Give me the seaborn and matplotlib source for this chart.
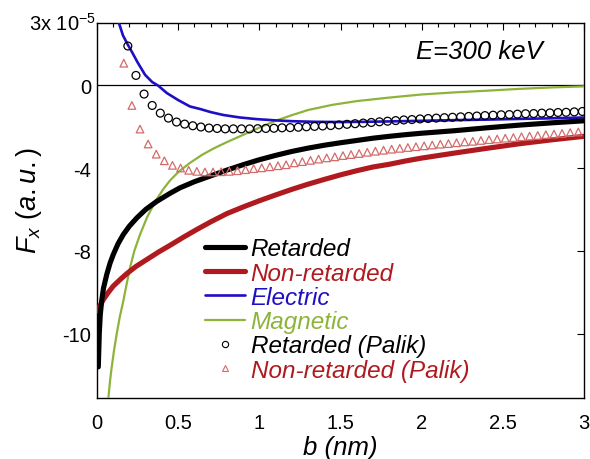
import numpy as np
import pandas as pd
import matplotlib
matplotlib.use('Agg')
import matplotlib.pyplot as plt
import seaborn as sns
from matplotlib.lines import Line2D
from matplotlib.ticker import MultipleLocator, FixedLocator

# ---------------- data ----------------
ret_b = [0.008, 0.014, 0.02, 0.029, 0.04, 0.06, 0.08, 0.1, 0.13, 0.162, 0.2, 0.245, 0.3,
         0.368, 0.45, 0.51, 0.6, 0.7, 0.8, 0.9, 1.0, 1.1, 1.2, 1.3, 1.4, 1.5, 1.6, 1.7,
         1.8, 1.9, 2.0, 2.2, 2.4, 2.6, 2.8, 3.0]
ret_f = [-13.6, -12.0, -11.1, -10.4, -9.8, -9.14, -8.6, -8.18, -7.65, -7.21, -6.8, -6.41, -6.0,
         -5.61, -5.22, -4.96, -4.66, -4.38, -4.1, -3.84, -3.6, -3.39, -3.2, -3.04, -2.9, -2.78,
         -2.67, -2.56, -2.47, -2.39, -2.32, -2.2, -2.06, -1.93, -1.82, -1.72]

nonret_b = [0.0, 0.02, 0.039, 0.07, 0.1, 0.14, 0.183, 0.24, 0.306, 0.38, 0.45, 0.53, 0.614,
            0.7, 0.8, 0.9, 1.0, 1.1, 1.2, 1.3, 1.4, 1.5, 1.6, 1.7, 1.8, 1.9, 2.0, 2.2, 2.4,
            2.6, 2.8, 3.0]
nonret_f = [-10.9, -10.62, -10.35, -10.0, -9.7, -9.4, -9.1, -8.75, -8.42, -8.05, -7.73, -7.35,
            -6.97, -6.6, -6.2, -5.88, -5.58, -5.3, -5.03, -4.78, -4.55, -4.33, -4.13, -3.95,
            -3.82, -3.66, -3.52, -3.28, -3.05, -2.83, -2.64, -2.47]

elec_b = [0.135, 0.16, 0.19, 0.214, 0.25, 0.296, 0.34, 0.378, 0.43, 0.5, 0.573, 0.635, 0.7,
          0.778, 0.88, 0.984, 1.1, 1.2, 1.35, 1.5, 1.65, 1.8, 2.0, 2.2, 2.42, 2.6, 2.8, 3.0]
elec_f = [3.0, 2.4, 1.95, 1.62, 1.1, 0.5, 0.15, -0.03, -0.38, -0.72, -1.03, -1.15, -1.3,
          -1.44, -1.56, -1.64, -1.7, -1.74, -1.77, -1.78, -1.77, -1.75, -1.72, -1.69, -1.66,
          -1.63, -1.6, -1.56]

mag_b = [0.07, 0.08, 0.09, 0.105, 0.121, 0.14, 0.162, 0.18, 0.203, 0.23, 0.265, 0.31, 0.36,
         0.41, 0.45, 0.5, 0.573, 0.65, 0.72, 0.8, 0.9, 1.0, 1.1, 1.2, 1.3, 1.45, 1.6, 1.8,
         2.0, 2.2, 2.42, 2.6, 2.8, 3.0]
mag_f = [-15.1, -14.3, -13.64, -12.8, -12.03, -11.2, -10.42, -9.7, -8.82, -8.0, -7.21, -6.35,
         -5.6, -5.0, -4.6, -4.2, -3.75, -3.35, -3.05, -2.75, -2.4, -2.05, -1.72, -1.45, -1.2,
         -0.95, -0.77, -0.6, -0.45, -0.35, -0.26, -0.18, -0.11, -0.06]

palik_ret_b = [0.19, 0.24, 0.29, 0.34, 0.39, 0.44, 0.49, 0.54, 0.59, 0.64, 0.69, 0.74, 0.79,
               0.84, 0.89, 0.94, 0.99, 1.04, 1.09, 1.14, 1.19, 1.24, 1.29, 1.34, 1.39, 1.44,
               1.49, 1.54, 1.59, 1.64, 1.69, 1.74, 1.79, 1.84, 1.89, 1.94, 1.99, 2.04, 2.09,
               2.14, 2.19, 2.24, 2.29, 2.34, 2.39, 2.44, 2.49, 2.54, 2.59, 2.64, 2.69, 2.74,
               2.79, 2.84, 2.89, 2.94, 2.99]
palik_ret_f = [1.89, 0.47, -0.43, -0.98, -1.35, -1.59, -1.78, -1.88, -1.96, -2.02, -2.07,
               -2.09, -2.11, -2.11, -2.11, -2.11, -2.1, -2.09, -2.08, -2.06, -2.05, -2.03,
               -2.01, -1.99, -1.97, -1.95, -1.92, -1.89, -1.86, -1.83, -1.8, -1.77, -1.74,
               -1.71, -1.68, -1.66, -1.63, -1.61, -1.59, -1.57, -1.55, -1.53, -1.51, -1.49,
               -1.47, -1.45, -1.43, -1.42, -1.4, -1.38, -1.37, -1.35, -1.34, -1.32, -1.31,
               -1.29, -1.27]

palik_non_b = [0.165, 0.215, 0.265, 0.315, 0.365, 0.415, 0.465, 0.515, 0.565, 0.615, 0.665,
               0.715, 0.765, 0.815, 0.865, 0.915, 0.965, 1.015, 1.065, 1.115, 1.165, 1.215,
               1.265, 1.315, 1.365, 1.415, 1.465, 1.515, 1.565, 1.615, 1.665, 1.715, 1.765,
               1.815, 1.865, 1.915, 1.965, 2.015, 2.065, 2.115, 2.165, 2.215, 2.265, 2.315,
               2.365, 2.415, 2.465, 2.515, 2.565, 2.615, 2.665, 2.715, 2.765, 2.815, 2.865,
               2.915, 2.965]
palik_non_f = [1.06, -0.98, -2.12, -2.84, -3.33, -3.65, -3.87, -4.0, -4.11, -4.16, -4.19,
               -4.19, -4.18, -4.16, -4.13, -4.08, -4.03, -3.99, -3.94, -3.89, -3.84, -3.75,
               -3.69, -3.63, -3.57, -3.51, -3.46, -3.4, -3.35, -3.3, -3.24, -3.19, -3.14,
               -3.09, -3.05, -3.01, -2.97, -2.93, -2.89, -2.85, -2.82, -2.78, -2.74, -2.71,
               -2.67, -2.63, -2.6, -2.56, -2.53, -2.49, -2.46, -2.43, -2.39, -2.36, -2.33,
               -2.29, -2.26]

series_labels = ['Retarded', 'Non-retarded', 'Electric', 'Magnetic',
                 'Retarded (Palik)', 'Non-retarded (Palik)']
x_ticks = [0, 0.5, 1, 1.5, 2, 2.5, 3]
x_tick_labels = ['0', '0.5', '1', '1.5', '2', '2.5', '3']
y_ticks = [0, -4, -8, -12]
y_tick_labels = ['0', '-4', '-8', '-10']
y_top_label = '3x 10$^{-5}$'
annotation = 'E=300 keV'

# ---------------- style ----------------
sns.set_theme(style='white')
plt.rcParams['font.family'] = ['Liberation Sans', 'DejaVu Sans']
plt.rcParams['mathtext.fontset'] = 'custom'
plt.rcParams['mathtext.rm'] = 'Liberation Sans'
plt.rcParams['mathtext.it'] = 'Liberation Sans:italic'
plt.rcParams['axes.unicode_minus'] = False
plt.rcParams['text.color'] = 'black'
plt.rcParams['axes.labelcolor'] = 'black'

C_BLACK = '#000000'
C_RED = '#b01a1e'
C_BLUE = '#1f0fc4'
C_GREEN = '#8db33a'
C_TRI = '#d46a6a'

fig = plt.figure(figsize=(5.9, 4.6), dpi=100)
ax = fig.add_axes([97 / 590, 1 - 399 / 460, 487 / 590, 375 / 460])

ax.axhline(0, color='black', lw=0.9, zorder=1)

sns.lineplot(x=mag_b, y=mag_f, ax=ax, color=C_GREEN, lw=1.6, sort=False, estimator=None, zorder=3)
sns.lineplot(x=elec_b, y=elec_f, ax=ax, color=C_BLUE, lw=1.9, sort=False, estimator=None, zorder=3)
sns.lineplot(x=nonret_b, y=nonret_f, ax=ax, color=C_RED, lw=3.7, sort=False, estimator=None, zorder=4)
sns.lineplot(x=ret_b, y=ret_f, ax=ax, color=C_BLACK, lw=3.7, sort=False, estimator=None, zorder=5)
sns.scatterplot(x=palik_ret_b, y=palik_ret_f, ax=ax, marker='o', s=32, facecolor='none',
                edgecolor='black', linewidth=0.9, zorder=6)
sns.scatterplot(x=palik_non_b, y=palik_non_f, ax=ax, marker='^', s=30, facecolor='none',
                edgecolor=C_TRI, linewidth=0.9, zorder=6)

ax.set_xlim(0, 3)
ax.set_ylim(-15.1, 3)

ax.xaxis.set_major_locator(FixedLocator(x_ticks))
ax.set_xticklabels(x_tick_labels)
ax.xaxis.set_minor_locator(MultipleLocator(0.1))
ax.yaxis.set_major_locator(FixedLocator(y_ticks))
ax.set_yticklabels(y_tick_labels)

ax.tick_params(axis='both', which='both', direction='in', top=True, right=True,
               colors='black', labelcolor='black', labelsize=14.5, width=0.8)
ax.tick_params(axis='both', which='major', length=5)
ax.tick_params(axis='x', which='minor', length=3)
ax.tick_params(axis='x', which='major', pad=11)
ax.tick_params(axis='y', which='major', pad=4)
for sp in ax.spines.values():
    sp.set_color('black')
    sp.set_linewidth(1.0)

ax.text(-0.003, 1.0, y_top_label, transform=ax.transAxes, ha='right', va='center',
        fontsize=14.5, color='black')

ax.set_xlabel('b (nm)', fontsize=18.5, fontstyle='italic', color='black')
ax.xaxis.set_label_coords(0.5, -0.131)
ax.xaxis.label.set_va('center')
ax.set_ylabel('$F_x$ $(a.u.)$', fontsize=19.5, color='black')
ax.yaxis.set_label_coords(-0.14, 0.53)
ax.yaxis.label.set_va('center')

ax.text(0.916, 0.926, annotation, transform=ax.transAxes, ha='right', va='center',
        fontsize=18.5, fontstyle='italic', color='black')

handles = [
    Line2D([], [], color=C_BLACK, lw=3.7),
    Line2D([], [], color=C_RED, lw=3.7),
    Line2D([], [], color=C_BLUE, lw=1.9),
    Line2D([], [], color=C_GREEN, lw=1.6),
    Line2D([], [], color='black', marker='o', ls='', mfc='none', mew=0.8, ms=4.5),
    Line2D([], [], color=C_TRI, marker='^', ls='', mfc='none', mew=0.8, ms=4.5),
]
text_colors = [C_BLACK, C_RED, C_BLUE, C_GREEN, C_BLACK, C_RED]
leg = ax.legend(handles, series_labels, loc='upper left', bbox_to_anchor=(0.222, 0.428),
                frameon=False, fontsize=17.5, handlelength=1.65, handletextpad=0.22,
                labelspacing=0.05, borderpad=0, borderaxespad=0)
for t, c in zip(leg.get_texts(), text_colors):
    t.set_color(c)
    t.set_fontstyle('italic')

fig.savefig('out.png', dpi=100)
